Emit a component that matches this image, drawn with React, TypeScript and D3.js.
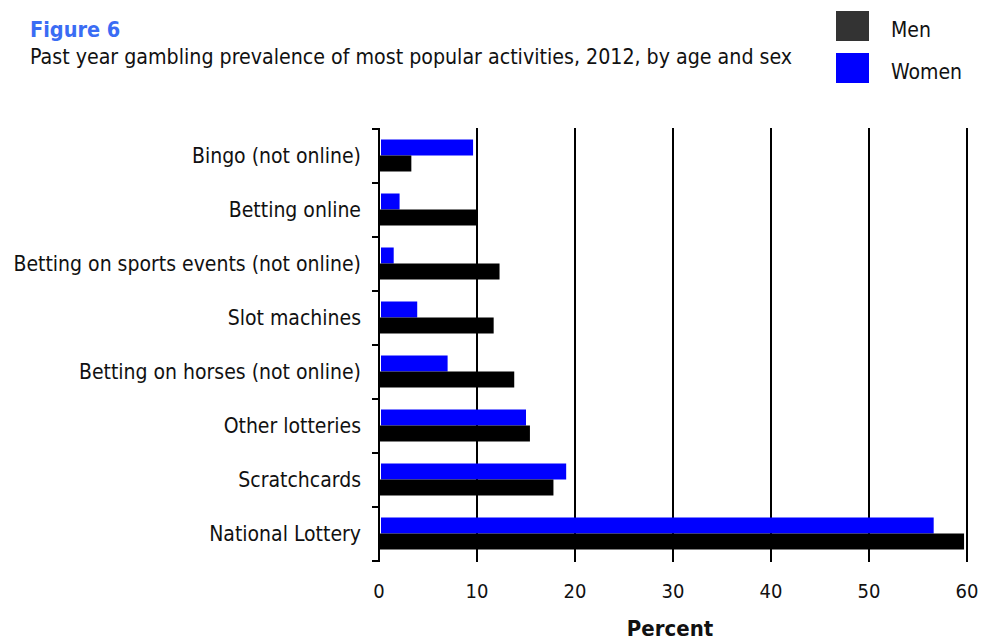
import React from "react";
import * as d3 from "d3";

const categories = [
  "Bingo (not online)",
  "Betting online",
  "Betting on sports events (not online)",
  "Slot machines",
  "Betting on horses (not online)",
  "Other lotteries",
  "Scratchcards",
  "National Lottery",
];
const women = [9.6, 2.1, 1.5, 3.9, 7.0, 15.0, 19.1, 56.6];
const men = [3.3, 10.1, 12.3, 11.7, 13.8, 15.4, 17.8, 59.7];
const xTicks = [0, 10, 20, 30, 40, 50, 60];

const W = 981;
const H = 640;
const FONT = "'DejaVu Sans Condensed', 'DejaVu Sans', Verdana, sans-serif";

export default function App() {
  const left = 379;
  const right = 967;
  const top = 129;
  const bottom = 561;
  const x = d3.scaleLinear().domain([0, 60]).range([left, right]);
  const y = d3.scaleBand<string>().domain(categories).range([top, bottom]);
  const barH = 16;

  return (
    <svg
      width={W}
      height={H}
      style={{ position: "absolute", left: 0, top: 0, background: "#fff" }}
      fontFamily={FONT}
    >
      {/* Title */}
      <text x={30} y={37} fontSize={21.5} fontWeight="bold" fill="#3a6cf4">
        Figure 6
      </text>
      <text x={30} y={64} fontSize={21.2} fill="#111">
        Past year gambling prevalence of most popular activities, 2012, by age and sex
      </text>

      {/* Legend */}
      <rect x={836} y={11} width={33} height={30} fill="#333333" />
      <text x={891} y={37} fontSize={21} fill="#111">Men</text>
      <rect x={836} y={53} width={33} height={30} fill="#0000ff" />
      <text x={891} y={79} fontSize={21} fill="#111">Women</text>

      {/* Gridlines */}
      {xTicks.filter((t) => t > 0).map((t) => (
        <line key={t} x1={x(t)} x2={x(t)} y1={top - 1} y2={bottom + 1} stroke="#000" strokeWidth={2} />
      ))}

      {/* Bars */}
      {categories.map((c, i) => {
        const cy = (y(c) as number) + y.bandwidth() / 2;
        return (
          <g key={c}>
            <rect x={x(0) + 2} y={cy - barH - 0.5} width={x(women[i]) - x(0) - 2} height={barH} fill="#0000ff" />
            <rect x={x(0)} y={cy - 0.5} width={x(men[i]) - x(0)} height={barH} fill="#000" />
          </g>
        );
      })}

      {/* Y axis */}
      <line x1={x(0)} x2={x(0)} y1={top - 1} y2={bottom + 1} stroke="#000" strokeWidth={2} />
      {[...categories.map((c) => y(c) as number), bottom].map((v, i) => (
        <line key={i} x1={x(0) - 7} x2={x(0)} y1={v} y2={v} stroke="#000" strokeWidth={2} />
      ))}
      {categories.map((c) => (
        <text
          key={c}
          x={361}
          y={(y(c) as number) + y.bandwidth() / 2 + 7}
          textAnchor="end"
          fontSize={21}
          fill="#111"
        >
          {c}
        </text>
      ))}

      {/* X tick labels */}
      {xTicks.map((t) => (
        <text key={t} x={x(t)} y={598} textAnchor="middle" fontSize={20} fill="#111">
          {t}
        </text>
      ))}
      <text x={670} y={636} textAnchor="middle" fontSize={22} fontWeight="bold" fill="#111">
        Percent
      </text>
    </svg>
  );
}
